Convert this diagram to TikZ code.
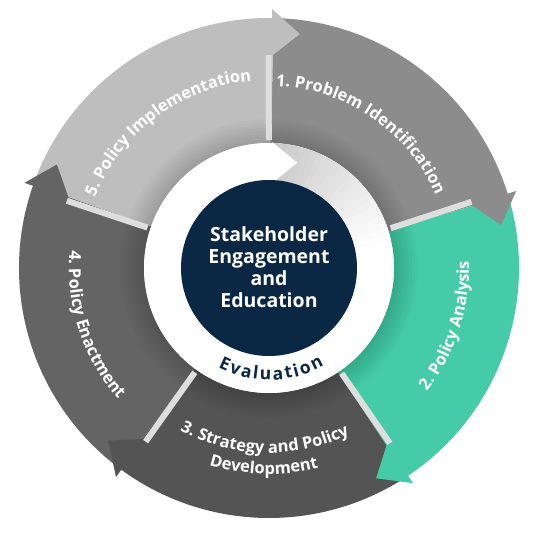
\documentclass[tikz,border=0pt]{standalone}
\usepackage{fontspec}
\setmainfont{Open Sans}
\usetikzlibrary{decorations.text}

\definecolor{problemgray}{HTML}{8C8C8C}
\definecolor{analysisgreen}{HTML}{45CBA8}
\definecolor{strategygray}{HTML}{545454}
\definecolor{enactgray}{HTML}{646464}
\definecolor{implgray}{HTML}{BEBEBE}
\definecolor{stripgray}{HTML}{DEDEDE}
\definecolor{hubnavy}{HTML}{0A2744}

\newcommand{\ringfont}{\color{white}\bfseries\fontsize{16.5}{19}\selectfont}
\newcommand{\evalfont}{\color{hubnavy}\bfseries\fontsize{17.5}{20}\selectfont}

\tikzset{
    ringlabel/.style={decorate, decoration={text along path, text align=center, text={#1}}}
}

\begin{document}
\begin{tikzpicture}[x=1pt, y=1pt]
        \useasboundingbox (-269,-270) rectangle (269,268);

        % Ring segments, clockwise from the top
        \foreach \sa/\ea/\col in {89/17/problemgray, 17/-56.5/analysisgreen, -56.5/-126.5/strategygray, -126.5/-199.5/enactgray, 160.5/89/implgray}
            \fill[\col] (\sa:250) arc[start angle=\sa, end angle=\ea, radius=250]
                -- (\ea:125) arc[start angle=\ea, end angle=\sa, radius=125] -- cycle;

        % Arrow heads over the next segment
        \foreach \a/\col in {89/implgray, 17/problemgray, -56.5/analysisgreen, -126.5/strategygray, 160.5/enactgray}
            \fill[\col] (\a+0.3:259) -- (\a-6.5:236) -- (\a+0.3:212) -- cycle;

        % Soft shadow along the inner edge
        \foreach \k in {1,...,8}
            \fill[black, opacity=0.02] (0,0) circle (125+3*\k);

        % Light separator strips
        \foreach \a in {89, 17, -56.5, -126.5, 160.5}
            \draw[stripgray, line width=6] (\a+1.1:128) -- (\a+1.1:213);

        % White ring, gray towards its tail
        \fill[white] (0,0) circle (125);
        \foreach \k [evaluate=\k as \shade using 21-0.85*\k] in {0,...,24}
            \fill[black!\shade] (88-3*\k:125) arc[start angle=88-3*\k, end angle=84.5-3*\k, radius=125]
                -- (84.5-3*\k:88) arc[start angle=84.5-3*\k, end angle=88-3*\k, radius=88] -- cycle;
        \fill[white] (88.5:126) -- (75:109) -- (88.5:84) -- cycle;

        % Navy hub
        \fill[hubnavy] (0,0) circle (88);
        \node[text=white, font=\bfseries\fontsize{19.5}{22}\selectfont, align=center] (hub) at (0,1)
            {Stakeholder\\Engagement\\and\\Education};

        % Step labels
        \path[ringlabel={|\ringfont|1. Problem Identification}] (95.75:182) arc[start angle=95.75, end angle=15.75, radius=182];
        \path[ringlabel={|\ringfont|2. Policy Analysis}] (-58:200) arc[start angle=-58, end angle=22, radius=200];
        \path[ringlabel={|\ringfont|3. Strategy and Policy}] (-136.5:185) arc[start angle=-136.5, end angle=-46.5, radius=185];
        \path[ringlabel={|\ringfont|Development}] (-136.5:206) arc[start angle=-136.5, end angle=-46.5, radius=206];
        \path[ringlabel={|\ringfont|4. Policy Enactment}] (158:200) arc[start angle=158, end angle=238, radius=200];
        \path[ringlabel={|\ringfont|5. Policy Implementation}] (166.6:188) arc[start angle=166.6, end angle=86.6, radius=188];

        % Evaluation along the white ring, spread out
        \path[decorate, decoration={text along path, text align={fit to path}, text={|\evalfont|Evaluation}}]
            (-117:112) arc[start angle=-117, end angle=-60.5, radius=112];
    \end{tikzpicture}
\end{document}
